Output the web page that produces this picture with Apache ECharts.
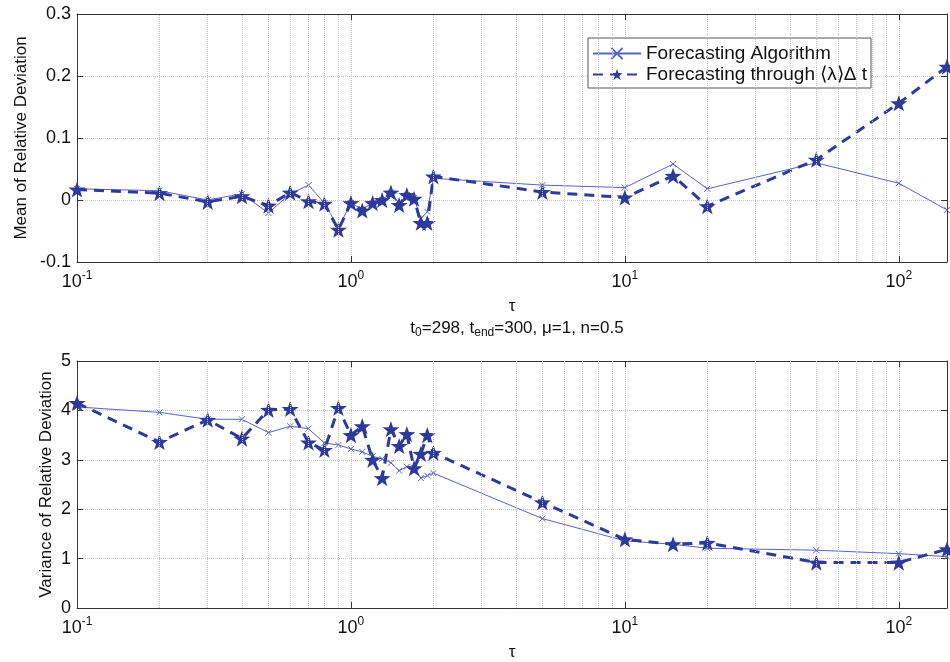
<!DOCTYPE html>
<html>
<head>
<meta charset="utf-8">
<script src="https://cdn.jsdelivr.net/npm/echarts@6/dist/echarts.min.js"></script>
<style>html,body{margin:0;padding:0;background:#fff}#c{width:950px;height:662px}</style>
</head>
<body>
<div id="c"></div>
<script>
// ---- data ----
const tau = [0.1,0.2,0.3,0.4,0.5,0.6,0.7,0.8,0.9,1.0,1.1,1.2,1.3,1.4,1.5,1.6,1.7,1.8,1.9,2,5,10,15,20,50,100,150];
const meanAlgorithm = [0.018,0.015,0.0,0.01,-0.021,0.01,0.024,-0.005,-0.045,-0.005,-0.015,-0.005,0.0,0.012,-0.005,0.008,0.003,-0.03,-0.019,0.035,0.024,0.020,0.058,0.018,0.060,0.027,-0.016];
const meanLambda    = [0.017,0.011,-0.003,0.006,-0.009,0.012,-0.002,-0.006,-0.048,-0.005,-0.017,-0.005,0.0,0.012,-0.008,0.008,0.002,-0.037,-0.037,0.038,0.013,0.004,0.039,-0.010,0.065,0.156,0.215];
const varAlgorithm  = [4.07,3.96,3.82,3.82,3.55,3.68,3.63,3.34,3.30,3.22,3.16,3.07,3.02,2.94,2.78,2.86,2.84,2.63,2.68,2.73,1.81,1.36,1.29,1.21,1.17,1.10,1.04];
const varLambda     = [4.15,3.36,3.81,3.43,4.01,4.03,3.35,3.20,4.05,3.50,3.68,3.00,2.63,3.62,3.28,3.52,2.83,3.12,3.50,3.14,2.14,1.39,1.29,1.32,0.92,0.92,1.19];
const xMin = 0.1, xMax = 150;
const meanRange = [-0.1, 0.3, 0.1];
const varRange = [0, 5, 1];
const minorGridX = [];
[0.1,1,10,100].forEach(d => { for (let k = 2; k <= 9; k++) { const v = +(d*k).toPrecision(3); if (v < xMax) minorGridX.push(v); } });
const seriesNames = ['Forecasting Algorithm', 'Forecasting through \u27E8\u03BB\u27E9\u0394 t'];

// ---- style ----
const C_SOLID = '#5664c4';
const C_DASH = '#2d3a9c';
const GRID_C = '#c4c4c4';
const STAR = 'path://M0,-10 L2.35,-3.24 L9.51,-3.09 L3.8,1.24 L5.88,8.09 L0,4 L-5.88,8.09 L-3.8,1.24 L-9.51,-3.09 L-2.35,-3.24 Z';
const XMARK = 'path://M0,0 L10,10 M10,0 L0,10';
const FONT = '"Liberation Sans", Arial, Helvetica, sans-serif';

function pow10Label(v) {
  const e = Math.log10(v);
  const r = Math.round(e);
  if (Math.abs(e - r) > 1e-6) return '';
  return '{b|10}{s|' + r + '}';
}
const xRich = { b: { fontSize: 18, fontFamily: FONT, color: '#111' }, s: { fontSize: 12, fontFamily: FONT, color: '#111', padding: [0,0,12,0] } };

function xAxes(gi) {
  return [
    { type: 'log', logBase: 10, gridIndex: gi, min: xMin, max: xMax, position: 'bottom',
      name: '\u03C4', nameLocation: 'middle', nameGap: 36, nameTextStyle: { fontSize: 17, fontFamily: FONT, color: '#111' },
      axisLine: { onZero: false, lineStyle: { color: '#333', width: 1 } },
      axisTick: { inside: true, length: 6, lineStyle: { color: '#333' } },
      axisLabel: { formatter: pow10Label, rich: xRich, margin: 8 },
      splitLine: { show: true, lineStyle: { type: 'dotted', color: GRID_C } } },
    { type: 'log', logBase: 10, gridIndex: gi, min: xMin, max: xMax, position: 'top',
      axisLine: { onZero: false, lineStyle: { color: '#333', width: 1 } },
      axisTick: { inside: true, length: 6, lineStyle: { color: '#333' } },
      axisLabel: { show: false }, splitLine: { show: false } }
  ];
}
function yAxes(gi, range, name, gap) {
  return [
    { type: 'value', gridIndex: gi, min: range[0], max: range[1], interval: range[2], position: 'left',
      name: name, nameLocation: 'middle', nameGap: gap, nameRotate: 90, nameMoveOverlap: false,
      nameTextStyle: { fontSize: 17, fontFamily: FONT, color: '#111' },
      axisLine: { show: true, onZero: false, lineStyle: { color: '#333' } },
      axisTick: { show: true, inside: true, length: 6, lineStyle: { color: '#333' } },
      axisLabel: { fontSize: 18, fontFamily: FONT, color: '#111', margin: 6 },
      splitLine: { show: true, lineStyle: { type: 'dotted', color: GRID_C } } },
    { type: 'value', gridIndex: gi, min: range[0], max: range[1], interval: range[2], position: 'right',
      axisLine: { show: true, onZero: false, lineStyle: { color: '#333' } },
      axisTick: { show: true, inside: true, length: 6, lineStyle: { color: '#333' } },
      axisLabel: { show: false }, splitLine: { show: false } }
  ];
}
function pairs(xs, ys) { return xs.map((x, i) => [x, ys[i]]); }
function gridSeries(xi, yi) {
  return { type: 'line', name: 'grid', xAxisIndex: xi, yAxisIndex: yi, data: [], silent: true, z: 1,
    markLine: { silent: true, symbol: 'none', label: { show: false }, animation: false,
      lineStyle: { type: 'dotted', color: GRID_C, width: 1 },
      data: minorGridX.map(v => ({ xAxis: v })) } };
}
function solidSeries(xi, yi, ys) {
  return { type: 'line', name: seriesNames[0], xAxisIndex: xi, yAxisIndex: yi, data: pairs(tau, ys), z: 3,
    symbol: XMARK, symbolSize: 6, showAllSymbol: true,
    itemStyle: { color: 'none', borderColor: C_SOLID, borderWidth: 1 },
    lineStyle: { color: C_SOLID, width: 1 }, animation: false };
}
function dashSeries(xi, yi, ys) {
  return { type: 'line', name: seriesNames[1], xAxisIndex: xi, yAxisIndex: yi, data: pairs(tau, ys), z: 4,
    symbol: STAR, symbolSize: 17, symbolKeepAspect: true, showAllSymbol: true,
    itemStyle: { color: C_DASH, borderWidth: 0 },
    lineStyle: { color: C_DASH, width: 3, type: [10, 7] }, animation: false };
}

const chart = echarts.init(document.getElementById('c'), null, { renderer: 'canvas' });
chart.setOption({
  animation: false,
  backgroundColor: '#fff',
  title: {
    text: '{n|t}{sub|0}{n|=298, t}{sub|end}{n|=300, \u03BC=1, n=0.5}',
    left: 512, top: 312, textAlign: 'center',
    textStyle: { fontWeight: 'normal', rich: { n: { fontSize: 17, fontWeight: 'normal', fontFamily: FONT, color: '#111' }, sub: { fontSize: 12, fontWeight: 'normal', fontFamily: FONT, color: '#111', padding: [10,0,0,0] } } }
  },
  legend: {
    data: seriesNames, orient: 'vertical', left: 588, top: 38,
    backgroundColor: '#fff', borderColor: '#555', borderWidth: 1, padding: [6, 4, 4, 4],
    itemWidth: 48, itemHeight: 14, itemGap: 2,
    textStyle: { fontSize: 19, lineHeight: 19, fontFamily: FONT, color: '#111' }
  },
  grid: [
    { left: 77, top: 14, width: 871, height: 248, show: false },
    { left: 77, top: 361, width: 871, height: 250, show: false }
  ],
  xAxis: [...xAxes(0), ...xAxes(1)],
  yAxis: [...yAxes(0, meanRange, 'Mean of Relative Deviation', 47), ...yAxes(1, varRange, 'Variance of Relative Deviation', 22)],
  series: [
    gridSeries(0, 0), gridSeries(2, 2),
    solidSeries(0, 0, meanAlgorithm), dashSeries(0, 0, meanLambda),
    solidSeries(2, 2, varAlgorithm), dashSeries(2, 2, varLambda)
  ]
});
</script>
</body>
</html>
